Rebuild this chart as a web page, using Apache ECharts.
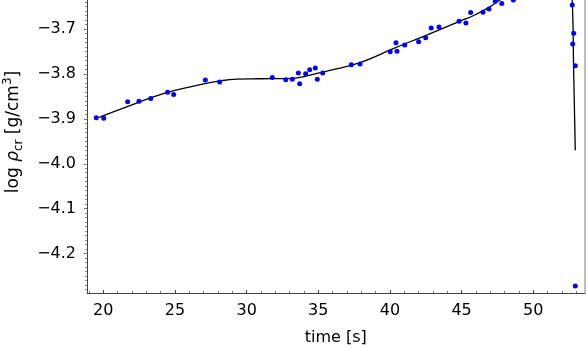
<!DOCTYPE html>
<html>
<head>
<meta charset="utf-8">
<script src="https://cdn.jsdelivr.net/npm/echarts@6/dist/echarts.min.js"></script>
<style>
  html, body { margin: 0; padding: 0; background: #fff; }
  #main { width: 586px; height: 349px; }
</style>
</head>
<body>
<div id="main"></div>
<script>
// measured points: time [s] and log rho_cr
var pointTime = [19.51, 20.03, 21.70, 22.49, 23.31, 24.49, 24.91, 27.12, 28.12, 31.79,
  32.73, 33.19, 33.61, 33.70, 34.12, 34.40, 34.79, 34.93, 35.31, 37.30,
  37.91, 40.02, 40.42, 40.49, 41.03, 42.00, 42.49, 42.88, 43.42, 44.82,
  45.30, 45.63, 46.49, 46.91, 47.35, 47.80, 48.61, 52.72, 52.82, 52.75,
  52.93, 52.93];
var pointRho = [-3.898, -3.899, -3.862, -3.861, -3.855, -3.841, -3.846, -3.814, -3.818, -3.808,
  -3.813, -3.812, -3.798, -3.822, -3.800, -3.791, -3.787, -3.812, -3.798, -3.780,
  -3.778, -3.751, -3.731, -3.750, -3.736, -3.729, -3.720, -3.698, -3.696, -3.683,
  -3.687, -3.664, -3.663, -3.656, -3.639, -3.644, -3.636, -3.647, -3.710, -3.734,
  -3.782, -4.272];

// fitted curve
var fitTime = [19.70, 21.86, 24.19, 26.52, 28.14, 29.31, 30.93, 33.26, 34.42, 35.59,
  37.91, 40.23, 42.56, 44.89, 45.81, 46.98, 47.68, 49.0, 50.5, 52.0, 52.55, 52.72, 52.82, 52.93];
var fitRho = [-3.897, -3.871, -3.844, -3.826, -3.816, -3.812, -3.811, -3.810, -3.803, -3.794,
  -3.775, -3.744, -3.714, -3.683, -3.671, -3.651, -3.636, -3.612, -3.588, -3.570, -3.575, -3.636, -3.800, -3.970];

var xLabels = [20, 25, 30, 35, 40, 45, 50];
var xMinor = [19, 21, 22, 23, 24, 26, 27, 28, 29, 31, 32, 33, 34, 36, 37, 38, 39,
  41, 42, 43, 44, 46, 47, 48, 49, 51, 52, 53];
var yLabels = [-4.2, -4.1, -4.0, -3.9, -3.8, -3.7];
var yMinor = [];
for (var k = -428; k <= -364; k++) yMinor.push(k / 100);

var chartDom = document.getElementById('main');
var myChart = echarts.init(chartDom);

var points = pointTime.map(function (t, i) { return [t, pointRho[i]]; });
var fit = fitTime.map(function (t, i) { return [t, fitRho[i]]; });

var axisCol = '#444';
var font = 'DejaVu Sans';
var xMin = 18.863, xMax = 53.573, yMin = -4.2873, yMax = -3.636;

var option = {
  animation: false,
  grid: { left: 87, right: 1.5, top: 0, bottom: 56, outerBoundsMode: 'none' },
  xAxis: [{
    type: 'value', min: xMin, max: xMax,
    name: 'time [s]', nameLocation: 'middle', nameGap: 37,
    nameTextStyle: { fontFamily: font, fontSize: 16, color: '#000' },
    axisLine: { lineStyle: { color: axisCol, width: 1 } },
    axisTick: { inside: true, length: 3, customValues: xLabels, lineStyle: { color: axisCol } },
    axisLabel: { customValues: xLabels, fontFamily: font, fontSize: 16, color: '#000', margin: 10 },
    splitLine: { show: false }
  }, {
    type: 'value', min: xMin, max: xMax, position: 'bottom',
    axisLine: { show: false },
    axisTick: { inside: true, length: 2, customValues: xMinor, lineStyle: { color: '#777' } },
    axisLabel: { show: false },
    splitLine: { show: false }
  }],
  yAxis: [{
    type: 'value', min: yMin, max: yMax,
    name: '{n|log }{r|ρ}{s|cr}{n| [g/cm}{p|3}{n|]}',
    nameLocation: 'middle', nameGap: 62, nameRotate: 90,
    nameTextStyle: {
      color: '#000',
      padding: [0, 0, 0, 29],
      rich: {
        n: { fontFamily: font, fontSize: 17, lineHeight: 23, color: '#000' },
        r: { fontFamily: font, fontSize: 17, fontStyle: 'italic', lineHeight: 23, color: '#000' },
        s: { fontFamily: font, fontSize: 12, verticalAlign: 'bottom', lineHeight: 12, color: '#000' },
        p: { fontFamily: font, fontSize: 12, verticalAlign: 'top', lineHeight: 12, color: '#000' }
      }
    },
    axisLine: { lineStyle: { color: axisCol, width: 1 } },
    axisTick: { length: 3, customValues: yLabels, lineStyle: { color: axisCol } },
    axisLabel: {
      customValues: yLabels, fontFamily: font, fontSize: 16, color: '#000', margin: 11,
      formatter: function (v) { return v.toFixed(1).replace('-', '\u2212'); }
    },
    splitLine: { show: false }
  }, {
    type: 'value', min: yMin, max: yMax, position: 'left',
    axisLine: { show: false },
    axisTick: { length: 2, customValues: yMinor, lineStyle: { color: '#888' } },
    axisLabel: { show: false },
    splitLine: { show: false }
  }, {
    type: 'value', min: yMin, max: yMax, position: 'right',
    axisLine: { lineStyle: { color: '#aaa', width: 1.5 } },
    axisTick: { show: false },
    axisLabel: { show: false },
    splitLine: { show: false }
  }],
  series: [{
    type: 'line',
    data: fit,
    smooth: 0.5,
    showSymbol: false,
    clip: true,
    lineStyle: { color: '#000', width: 1.3 },
    z: 2
  }, {
    type: 'scatter',
    data: points,
    symbolSize: 5,
    itemStyle: { color: '#0000ff', opacity: 1 },
    z: 3
  }]
};
myChart.setOption(option);
</script>
</body>
</html>
